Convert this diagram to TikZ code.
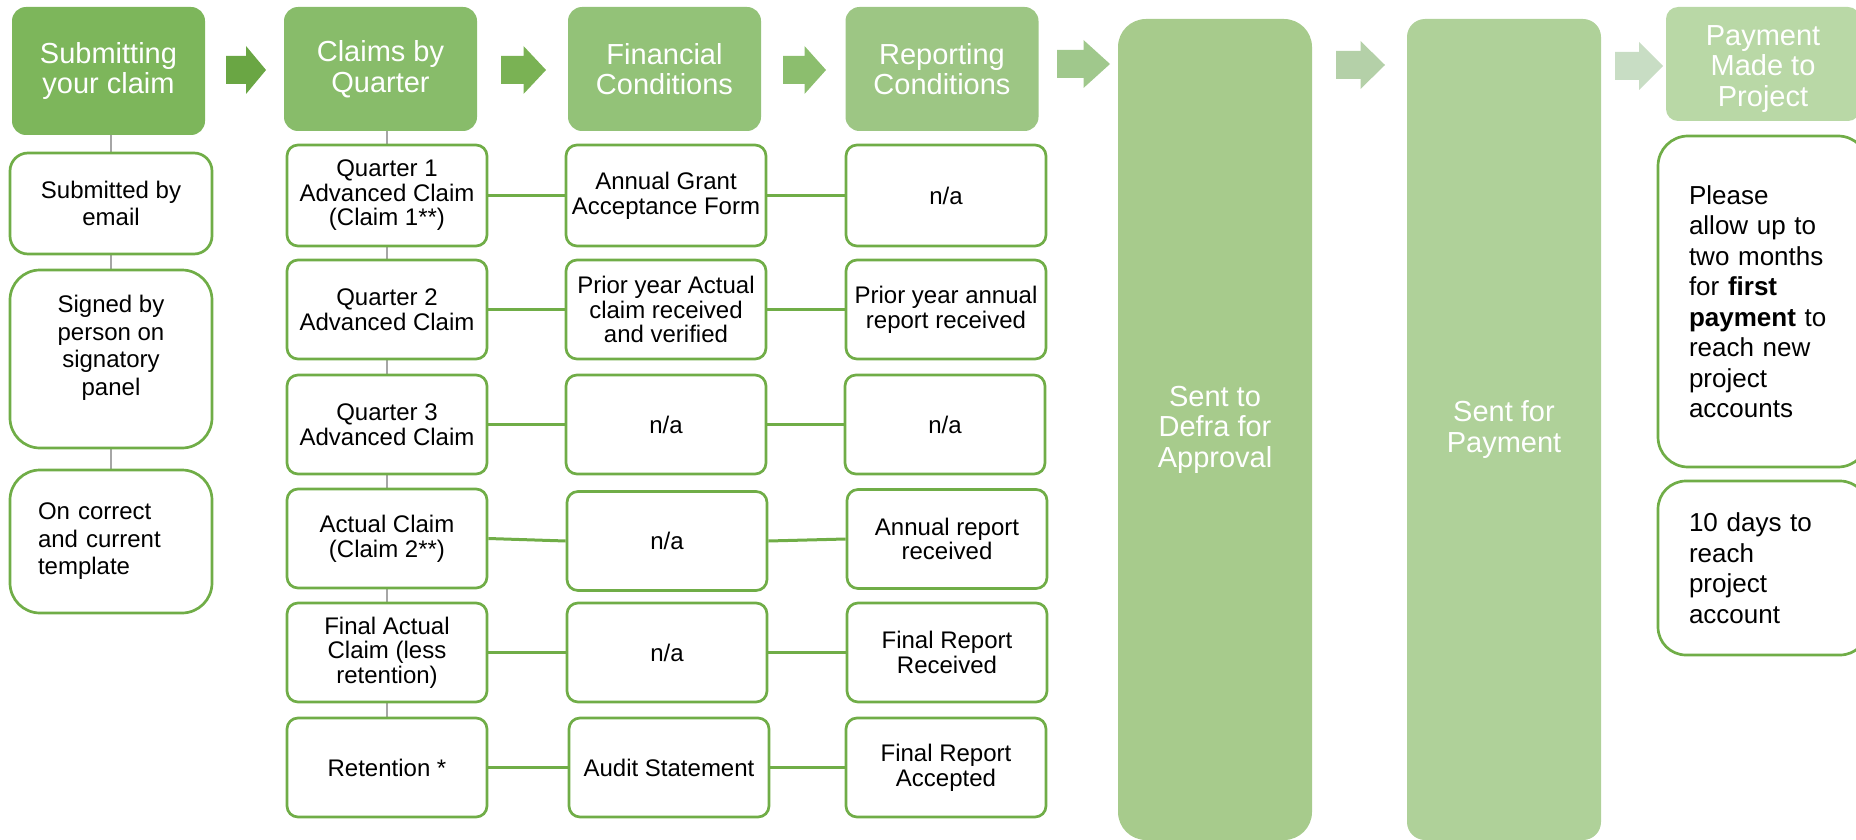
\documentclass[tikz,border=0pt]{standalone}
\usepackage{fontspec}
\setmainfont{Liberation Sans}
\definecolor{hA}{HTML}{7DB65B}
\definecolor{hB}{HTML}{88BC6A}
\definecolor{hC}{HTML}{93C278}
\definecolor{hD}{HTML}{9DC684}
\definecolor{hE}{HTML}{A7CB8C}
\definecolor{hF}{HTML}{AFD199}
\definecolor{hG}{HTML}{B9D8A6}
\definecolor{aA}{HTML}{6AA644}
\definecolor{aB}{HTML}{7AB254}
\definecolor{aC}{HTML}{8CBE6E}
\definecolor{aD}{HTML}{A0C88C}
\definecolor{aE}{HTML}{B4D0A8}
\definecolor{aF}{HTML}{C8DDC4}
\definecolor{bgreen}{HTML}{70AD47}
\definecolor{glink}{HTML}{A6A6A6}
\pgfdeclarelayer{background}
\pgfsetlayers{background,main}
\newcommand{\blockarrow}[4]{%
  \fill[#4] (#1,#3-14) -- ({(#1+#2)/2},#3-14) -- ({(#1+#2)/2},#3-24) -- (#2,#3)
    -- ({(#1+#2)/2},#3+24) -- ({(#1+#2)/2},#3+14) -- (#1,#3+14) -- cycle;}
\begin{document}
\begin{tikzpicture}[x=1pt,y=-1pt,
  hdr/.style={rectangle, inner sep=0pt, text=white, font=\fontsize{29}{30.5}\selectfont, align=center, minimum width=193pt},
  wbox/.style={rectangle, draw=bgreen, line width=2.7pt, fill=white, inner sep=0pt, minimum width=200pt, minimum height=99pt, rounded corners=11pt, text=black, align=center, font=\fontsize{24}{24.6}\selectfont},
  lbox/.style={wbox, minimum width=202pt, font=\fontsize{24}{27.6}\selectfont},
  gline/.style={draw=glink, line width=1.4pt},
  hline/.style={draw=bgreen, line width=3pt}]
\clip (0,0) rectangle (1856,840);
% headers
\node[hdr, fill=hA, minimum height=128pt, rounded corners=14pt] (h1) at (108.5,71) {Submitting\\your claim};
\node[hdr, fill=hB, minimum height=124pt, rounded corners=14pt] (h2) at (380.5,69) {Claims by\\Quarter};
\node[hdr, fill=hC, minimum height=124pt, rounded corners=14pt] (h3) at (664.5,69) {Financial\\Conditions};
\node[hdr, fill=hD, minimum height=124pt, rounded corners=14pt] (h4) at (942,69) {Reporting\\Conditions};
\node[hdr, fill=hE, minimum width=194pt, minimum height=821pt, rounded corners=28pt] (h5) at (1215,429.5) {Sent to\\Defra for\\Approval};
\node[hdr, fill=hF, minimum width=194pt, minimum height=821pt, rounded corners=18pt] (h6) at (1504,429.5) {Sent for\\Payment};
\node[hdr, fill=hG, minimum width=194pt, minimum height=114pt, rounded corners=12pt] (h7) at (1763,64) {\rule{0pt}{30pt}Payment\\Made to\\Project};
% block arrows
\blockarrow{226}{266}{70}{aA}
\blockarrow{501}{546}{70}{aB}
\blockarrow{783}{826}{70}{aC}
\blockarrow{1057}{1110}{64}{aD}
\blockarrow{1336}{1385}{65}{aE}
\blockarrow{1615}{1663}{66}{aF}
% left column
\node[lbox, minimum height=101pt, rounded corners=18pt] (l1) at (111,203.5) {Submitted by\\email};
\node[lbox, minimum height=178pt, rounded corners=30pt] (l2) at (111,359) {Signed by\\person on\\signatory\\panel\\\mbox{}};
\node[lbox, minimum height=143pt, rounded corners=30pt, text width=146pt, align=left] (l3) at (111,541.5) {On correct\\and current\\template};
% claims column
\node[wbox, minimum height=101pt] (q1) at (387,195.5) {Quarter 1\\Advanced Claim\\(Claim 1**)};
\node[wbox] (q2) at (387,309.5) {Quarter 2\\Advanced Claim};
\node[wbox] (q3) at (387,424.5) {Quarter 3\\Advanced Claim};
\node[wbox] (q4) at (387,538.5) {Actual Claim\\(Claim 2**)};
\node[wbox] (q5) at (387,652.5) {Final Actual\\Claim (less\\retention)};
\node[wbox] (q6) at (387,767.5) {Retention *};
% financial column
\node[wbox, minimum height=101pt] (f1) at (666,195.5) {Annual Grant\\Acceptance Form};
\node[wbox] (f2) at (666,309.5) {Prior year Actual\\claim received\\and verified};
\node[wbox] (f3) at (666,424.5) {n/a};
\node[wbox] (f4) at (667,541) {n/a};
\node[wbox] (f5) at (667,652.5) {n/a};
\node[wbox] (f6) at (669,767.5) {Audit Statement};
% reporting column
\node[wbox, minimum height=101pt] (r1) at (946,195.5) {n/a};
\node[wbox] (r2) at (946,309.5) {Prior year annual\\report received};
\node[wbox] (r3) at (945,424.5) {n/a};
\node[wbox] (r4) at (947,539) {Annual report\\received};
\node[wbox] (r5) at (947,652.5) {Final Report\\Received};
\node[wbox] (r6) at (946,767.5) {Final Report\\Accepted};
% payment column
\node[wbox, minimum width=210pt, minimum height=331pt, rounded corners=30pt, text width=148pt, align=left, font=\fontsize{26}{30.5}\selectfont] (p1) at (1763,301.5) {Please\\allow up to\\two months\\for \textbf{first}\\\textbf{payment} to\\reach new\\project\\accounts};
\node[wbox, minimum width=210pt, minimum height=174pt, rounded corners=28pt, text width=148pt, align=left, font=\fontsize{26}{30.5}\selectfont] (p2) at (1763,568) {10 days to\\reach\\project\\account};
% connectors
\begin{pgfonlayer}{background}
\draw[gline] (l1.north |- h1.south) -- (l1.north);
\draw[gline] (l1.south) -- (l2.north);
\draw[gline] (l2.south) -- (l3.north);
\draw[gline] (q1.north |- h2.south) -- (q1.north);
\draw[gline] (q1.south) -- (q2.north);
\draw[gline] (q2.south) -- (q3.north);
\draw[gline] (q3.south) -- (q4.north);
\draw[gline] (q4.south) -- (q5.north);
\draw[gline] (q5.south) -- (q6.north);
\draw[hline] (q1.east) -- (f1.west);
\draw[hline] (f1.east) -- (r1.west);
\draw[hline] (q2.east) -- (f2.west);
\draw[hline] (f2.east) -- (r2.west);
\draw[hline] (q3.east) -- (f3.west);
\draw[hline] (f3.east) -- (r3.west);
\draw[hline] (q4.east) -- (f4.west);
\draw[hline] (f4.east) -- (r4.west);
\draw[hline] (q5.east) -- (f5.west);
\draw[hline] (f5.east) -- (r5.west);
\draw[hline] (q6.east) -- (f6.west);
\draw[hline] (f6.east) -- (r6.west);
\end{pgfonlayer}
\end{tikzpicture}
\end{document}
